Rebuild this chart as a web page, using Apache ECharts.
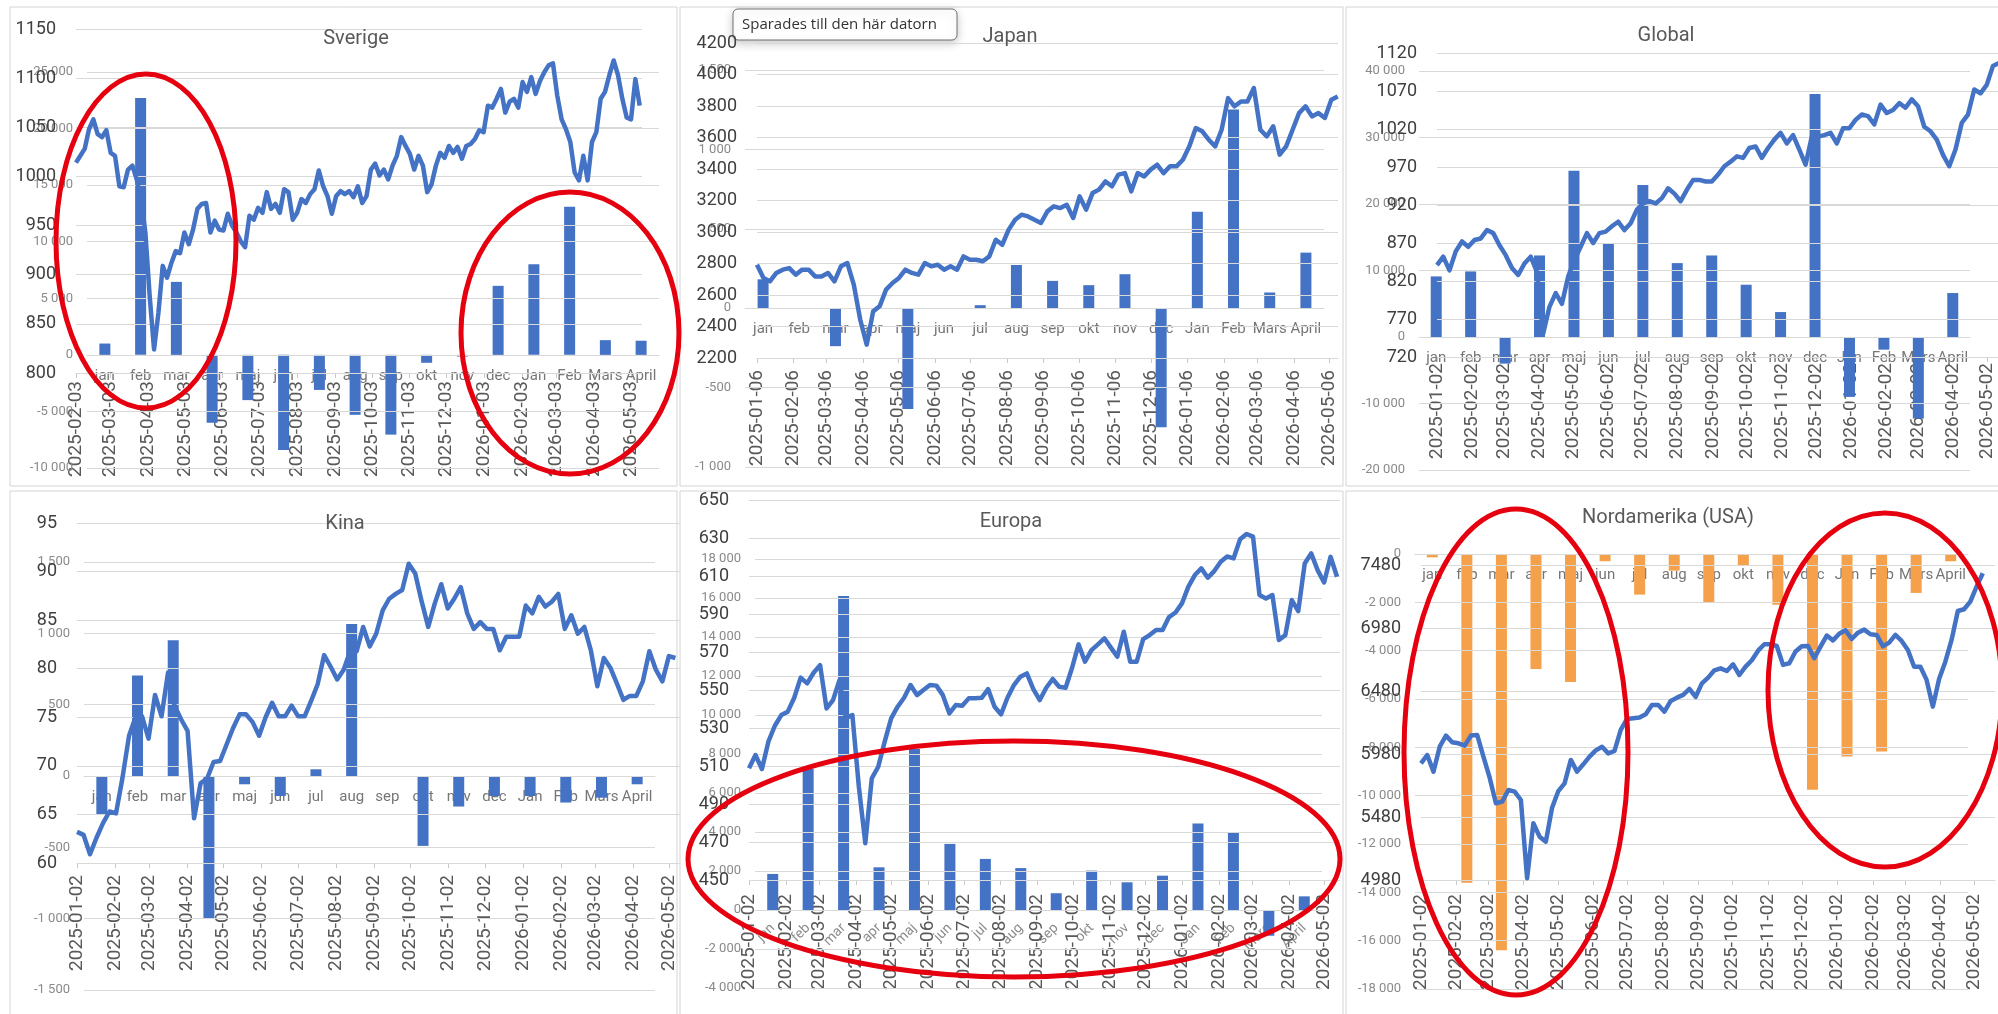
<!DOCTYPE html>
<html>
<head>
<meta charset="utf-8">
<script src="https://cdn.jsdelivr.net/npm/echarts@6/dist/echarts.min.js"></script>
<style>
  html, body { margin: 0; padding: 0; background: #fff; }
  #chart { width: 1998px; height: 1014px; }
</style>
</head>
<body>
<div id="chart"></div>
<script>
var months = ['jan', 'feb', 'mar', 'apr', 'maj', 'jun', 'jul', 'aug', 'sep', 'okt', 'nov', 'dec', 'Jan', 'Feb', 'Mars', 'April']

// Sverige
var sverigeStart = '2025-02-03'
var sverigeStep = 3.547 // dagar mellan punkterna
var sverigeLine = [1014, 1021, 1028, 1048, 1058, 1043, 1040, 1047, 1024, 1021,
  990, 989, 1007, 1011, 997, 977, 943, 878, 824, 861,
  909, 897, 912, 924, 922, 943, 931, 946, 967, 972,
  973, 943, 955, 946, 945, 962, 950, 943, 934, 928,
  960, 956, 968, 963, 984, 967, 972, 963, 987, 984,
  956, 963, 977, 973, 982, 987, 1006, 990, 980, 962,
  980, 985, 982, 985, 979, 990, 973, 980, 1007, 1013,
  1001, 1007, 997, 1011, 1021, 1040, 1031, 1023, 1007, 1021,
  1011, 984, 992, 1011, 1024, 1019, 1031, 1024, 1030, 1018,
  1031, 1033, 1038, 1047, 1045, 1072, 1070, 1079, 1089, 1065,
  1076, 1079, 1070, 1096, 1086, 1101, 1084, 1097, 1106, 1113,
  1115, 1082, 1058, 1048, 1035, 1004, 996, 1021, 996, 1035,
  1045, 1079, 1086, 1103, 1118, 1103, 1079, 1060, 1058, 1099, 1072]
var sverigeBars = [1000, 22700, 6450, -6000, -4000, -8400, -3100, -5300, -7050, -700, -150, 6100, 8000, 13100, 1300, 1250]

// Japan
var japanStart = '2025-01-06'
var japanStep = 5.47
var japanLine = [2792, 2708, 2687, 2740, 2761, 2771, 2729, 2761, 2761, 2718,
  2718, 2740, 2687, 2782, 2803, 2666, 2443, 2285, 2496, 2528,
  2634, 2676, 2708, 2761, 2740, 2729, 2803, 2782, 2792, 2761,
  2782, 2761, 2845, 2824, 2824, 2814, 2845, 2951, 2919, 3015,
  3078, 3110, 3099, 3078, 3057, 3131, 3163, 3152, 3173, 3089,
  3226, 3142, 3247, 3269, 3321, 3290, 3364, 3374, 3258, 3374,
  3353, 3396, 3427, 3374, 3417, 3417, 3459, 3544, 3660, 3639,
  3586, 3544, 3649, 3850, 3798, 3829, 3829, 3914, 3649, 3607,
  3671, 3491, 3544, 3649, 3755, 3798, 3734, 3755, 3724, 3840, 3861]
var japanBars = [182, 0, -239, 0, -635, 0, 19, 272, 172, 145, 214, -750, 608, 1252, 99, 350]

// Global
var globalStart = '2025-01-02'
var globalStep = 5.503
var globalLine = [841, 852, 834, 859, 872, 865, 874, 876, 887, 883,
  867, 854, 837, 828, 843, 852, 832, 751, 786, 804,
  790, 826, 848, 865, 883, 870, 883, 885, 892, 898,
  887, 896, 914, 922, 925, 922, 929, 942, 935, 925,
  940, 953, 953, 951, 951, 960, 971, 977, 984, 982,
  995, 997, 982, 995, 1006, 1015, 1001, 1012, 993, 973,
  1010, 1010, 1012, 1015, 1001, 1021, 1021, 1032, 1039, 1037,
  1026, 1052, 1041, 1045, 1054, 1048, 1059, 1050, 1023, 1017,
  1006, 986, 971, 993, 1028, 1039, 1072, 1067, 1078, 1103, 1107]
var globalBars = [9110, 9860, -4000, 12260, 25000, 14010, 22870, 11110, 12260, 7860, 3750, 36540, -9010, -1900, -12260, 6610]

// Kina
var kinaStart = '2025-01-02'
var kinaStep = 5.323
var kinaLine = [63.2, 62.9, 60.9, 62.6, 64.1, 65.3, 65.1, 68.8, 73.1, 75.0,
  75.1, 72.8, 77.3, 75.1, 79.6, 76.2, 74.8, 73.6, 64.6, 68.2,
  68.7, 70.4, 70.5, 72.2, 73.9, 75.3, 75.3, 74.5, 73.1, 75.0,
  76.5, 75.1, 75.1, 76.2, 75.1, 75.1, 76.7, 78.4, 81.4, 80.2,
  78.9, 79.9, 81.8, 81.8, 84.3, 82.3, 83.6, 86.0, 87.2, 87.7,
  88.1, 90.8, 89.8, 86.9, 84.3, 86.7, 88.7, 86.2, 87.2, 88.4,
  85.7, 84.1, 84.8, 84.1, 84.1, 81.9, 83.3, 83.3, 83.3, 86.5,
  85.7, 87.4, 86.4, 86.9, 87.7, 84.1, 85.5, 83.6, 84.3, 81.9,
  78.2, 81.1, 80.1, 78.5, 76.8, 77.2, 77.2, 78.7, 81.8, 79.9,
  78.7, 81.3, 81.1]
var kinaBars = [-268, 704, 951, -998, -58, -140, 47, 1065, 0, -490, -214, -140, -140, -186, -152, -58]

// Europa
var europaStart = '2025-01-02'
var europaStep = 5.445
var europaLine = [508.8, 515.8, 508.4, 522.8, 531.2, 536.8, 538.6, 545.9, 556.5, 553.5,
  559.1, 563.1, 540.3, 544.7, 555.2, 535.1, 536.8, 499.1, 469.3, 503.5,
  509.6, 522.8, 535.1, 541.2, 545.9, 552.6, 547.3, 550.0, 552.6, 552.3,
  547.3, 537.7, 542.1, 541.7, 545.6, 545.6, 545.9, 550.5, 541.2, 537.2,
  545.9, 552.6, 557.0, 558.7, 550.5, 544.7, 551.2, 555.8, 551.7, 551.2,
  561.7, 574.0, 564.9, 571.0, 574.0, 577.2, 572.3, 567.5, 580.7, 564.9,
  564.9, 576.8, 578.9, 581.6, 581.6, 588.4, 590.8, 595.6, 604.4, 610.5,
  614.0, 609.1, 612.6, 617.5, 620.3, 619.3, 629.3, 632.1, 630.7, 600.0,
  598.2, 600.0, 576.3, 578.9, 597.3, 591.5, 616.6, 621.9, 613.1, 606.6,
  620.1, 609.6]
var europaBars = [1850, 7230, 16100, 2190, 8260, 3390, 2620, 2150, 860, 2020, 1420, 1760, 4440, 3950, -1320, 700]

// Nordamerika (USA)
var usaStart = '2025-01-02'
var usaStep = 5.47
var usaLine = [5906, 5972, 5840, 6038, 6126, 6073, 6065, 6046, 6126, 6131,
  5959, 5792, 5589, 5602, 5694, 5681, 5615, 4993, 5430, 5324,
  5284, 5554, 5686, 5747, 5933, 5840, 5898, 5959, 6009, 6038,
  5985, 6004, 6171, 6258, 6263, 6269, 6295, 6369, 6369, 6316,
  6401, 6427, 6449, 6496, 6433, 6541, 6586, 6644, 6660, 6639,
  6692, 6607, 6673, 6724, 6800, 6851, 6851, 6837, 6687, 6700,
  6793, 6835, 6837, 6740, 6832, 6920, 6882, 6935, 6962, 6893,
  6943, 6967, 6930, 6925, 6835, 6864, 6925, 6877, 6806, 6673,
  6673, 6568, 6356, 6576, 6713, 6885, 7115, 7129, 7189, 7308, 7414]
var usaBars = [-140, -13600, -16400, -4760, -5300, -300, -1680, -690, -1990, -470, -2100, -9760, -8380, -8170, -1610, -300]

// axelskalor: [min, max, steg]
var lineScales = [[800, 1150, 50], [2200, 4200, 200], [720, 1120, 50], [60, 95, 5], [450, 650, 20], [4980, 7480, 500]]
var barScales = [[-10000, 25000, 5000], [-1000, 1500, 500], [-20000, 40000, 10000], [-1500, 1500, 500], [-4000, 18000, 2000], [-18000, 0, 2000]]
var dateLabelCount = [16, 17, 17, 17, 17, 17]

var panels = [
  { title: 'Sverige', start: sverigeStart, step: sverigeStep, line: sverigeLine, bars: sverigeBars },
  { title: 'Japan', start: japanStart, step: japanStep, line: japanLine, bars: japanBars },
  { title: 'Global', start: globalStart, step: globalStep, line: globalLine, bars: globalBars },
  { title: 'Kina', start: kinaStart, step: kinaStep, line: kinaLine, bars: kinaBars },
  { title: 'Europa', start: europaStart, step: europaStep, line: europaLine, bars: europaBars },
  { title: 'Nordamerika (USA)', start: usaStart, step: usaStep, line: usaLine, bars: usaBars, barColor: '#F5A04B' }
]

var layouts = [
  { line: { left: 76, top: 29, width: 566, height: 344 }, bar: { left: 87, top: 72, width: 572, height: 396 }, xMax: 463, dateMargin: 8, title: [356, 39] },
  { line: { left: 757, top: 43, width: 581, height: 315 }, bar: { left: 745, top: 70, width: 579, height: 397 }, xMax: 492.5, dateMargin: 12, title: [1010, 37] },
  { line: { left: 1437, top: 53, width: 571, height: 304 }, bar: { left: 1419, top: 71, width: 551, height: 399 }, xMax: 503, dateMargin: 6, title: [1666, 36] },
  { line: { left: 77, top: 523, width: 603, height: 340 }, bar: { left: 84, top: 562, width: 571, height: 428 }, xMax: 493.5, dateMargin: 12, title: [345, 524] },
  { line: { left: 749, top: 500, width: 591, height: 380 }, bar: { left: 755, top: 559, width: 567, height: 429 }, xMax: 498, dateMargin: 14, title: [1011, 522], rotateMonths: true },
  { line: { left: 1421, top: 565, width: 574, height: 315 }, bar: { left: 1415, top: 554, width: 553, height: 435 }, xMax: 503, dateMargin: 14, title: [1668, 518] }
]

var FONT = 'Roboto, "Liberation Sans", sans-serif'
var DAY = 86400000

function startMs(s) { return Date.parse(s + 'T00:00:00Z') }

function monthOffsets(s, n) {
  var d = new Date(startMs(s))
  var out = []
  for (var m = 0; m < n; m++) {
    out.push((Date.UTC(d.getUTCFullYear(), d.getUTCMonth() + m, d.getUTCDate()) - d.getTime()) / DAY)
  }
  return out
}

function fmtDate(s, v) {
  return new Date(startMs(s) + Math.round(v) * DAY).toISOString().slice(0, 10)
}

function sp(v) {
  var s = String(Math.abs(v)).replace(/\B(?=(\d{3})+(?!\d))/g, ' ')
  return v < 0 ? '-' + s : s
}

var grids = [], xAxes = [], yAxes = [], series = [], graphics = []

panels.forEach(function (p, i) {
  var L = layouts[i]
  var gi = grids.length
  grids.push(Object.assign({ containLabel: false, outerBoundsMode: 'none' }, L.bar))
  grids.push(Object.assign({ containLabel: false, outerBoundsMode: 'none' }, L.line))

  // staplar (sekundär axel), kategoriaxeln flyttas upp till nollan
  var bs = barScales[i]
  var zeroLift = -L.bar.height * (0 - bs[0]) / (bs[1] - bs[0])
  xAxes.push({
    type: 'category', gridIndex: gi, data: months, offset: zeroLift,
    axisLine: { onZero: false, lineStyle: { color: '#d9d9d9' } },
    axisTick: { show: false },
    axisLabel: L.rotateMonths
      ? { interval: 0, rotate: 45, margin: 16, fontSize: 14, color: '#8c8c8c', fontFamily: FONT, hideOverlap: false }
      : { interval: 0, margin: 14, fontSize: 15, color: '#767676', fontFamily: FONT, hideOverlap: false }
  })
  yAxes.push({
    type: 'value', gridIndex: gi, position: 'left', z: 3,
    min: bs[0], max: bs[1], interval: bs[2],
    axisLine: { show: false }, axisTick: { show: false },
    axisLabel: { margin: 14, fontSize: 13, color: '#8a8a8a', fontFamily: FONT, formatter: sp },
    splitLine: { lineStyle: { color: '#d9d9d9', width: 1 } }
  })
  series.push({
    type: 'bar', xAxisIndex: xAxes.length - 1, yAxisIndex: yAxes.length - 1,
    data: p.bars, barWidth: 11, z: 2,
    itemStyle: { color: p.barColor || '#4472C4' }
  })

  // linje (datumaxel)
  var ticks = monthOffsets(p.start, dateLabelCount[i])
  xAxes.push({
    type: 'value', gridIndex: gi + 1, min: 0, max: L.xMax,
    axisLine: { onZero: false, lineStyle: { color: '#d9d9d9' } },
    axisTick: { customValues: ticks, length: 5, lineStyle: { color: '#c8c8c8' } },
    axisLabel: {
      customValues: ticks, rotate: 90, margin: L.dateMargin, fontSize: 19,
      color: '#595959', fontFamily: FONT, hideOverlap: false,
      formatter: function (v) { return fmtDate(p.start, v) }
    },
    splitLine: { show: false }
  })
  yAxes.push({
    type: 'value', gridIndex: gi + 1, position: 'left', z: 3,
    min: lineScales[i][0], max: lineScales[i][1], interval: lineScales[i][2],
    axisLine: { show: false }, axisTick: { show: false },
    axisLabel: { margin: 20, fontSize: 18, color: '#404040', fontFamily: FONT, formatter: function (v) { return String(v) } },
    splitLine: { lineStyle: { color: '#d9d9d9', width: 1 } }
  })
  series.push({
    type: 'line', xAxisIndex: xAxes.length - 1, yAxisIndex: yAxes.length - 1,
    data: p.line.map(function (v, k) { return [k * p.step, v] }),
    showSymbol: false, symbol: 'none', z: 5,
    lineStyle: { color: '#4472C4', width: 4.5, join: 'round' }
  })

  graphics.push({
    type: 'text', x: L.title[0], y: L.title[1], z: 50, silent: true,
    style: { text: p.title, font: '20px ' + FONT, fill: '#595959', textAlign: 'center', textVerticalAlign: 'middle' }
  })
})

// ramar runt diagrammen
var frames = [[10, 7, 667, 479], [680, 7, 663, 479], [1346, 7, 660, 479], [10, 491, 667, 530], [680, 491, 663, 530], [1346, 491, 660, 530]]
frames.forEach(function (f) {
  graphics.push({ type: 'rect', z: -1, silent: true, shape: { x: f[0], y: f[1], width: f[2], height: f[3] }, style: { fill: 'none', stroke: '#d4d4d4', lineWidth: 1 } })
})

// röda ringar
var rings = [[146, 241, 90, 167], [570, 333, 109, 141], [1014, 859, 326, 118], [1516, 752, 112, 243], [1885, 690, 117, 177]]
rings.forEach(function (r) {
  graphics.push({ type: 'ellipse', z: 100, silent: true, shape: { cx: r[0], cy: r[1], rx: r[2], ry: r[3] }, style: { fill: 'none', stroke: '#e6000f', lineWidth: 5 } })
})

// liten popup
graphics.push({
  type: 'group', z: 120, silent: true,
  children: [
    { type: 'rect', shape: { x: 733, y: 9, width: 224, height: 31, r: 5 }, style: { fill: '#fff', stroke: '#707070', lineWidth: 1, shadowBlur: 10, shadowColor: 'rgba(0,0,0,0.22)', shadowOffsetY: 3 } },
    { type: 'text', x: 742, y: 25, style: { text: 'Sparades till den här datorn', font: '15px "Open Sans", sans-serif', fill: '#333', textVerticalAlign: 'middle' } }
  ]
})

var myChart = echarts.init(document.getElementById('chart'), null, { renderer: 'canvas' })
myChart.setOption({
  backgroundColor: '#fff',
  animation: false,
  grid: grids,
  xAxis: xAxes,
  yAxis: yAxes,
  series: series,
  graphic: graphics
})
</script>
</body>
</html>
